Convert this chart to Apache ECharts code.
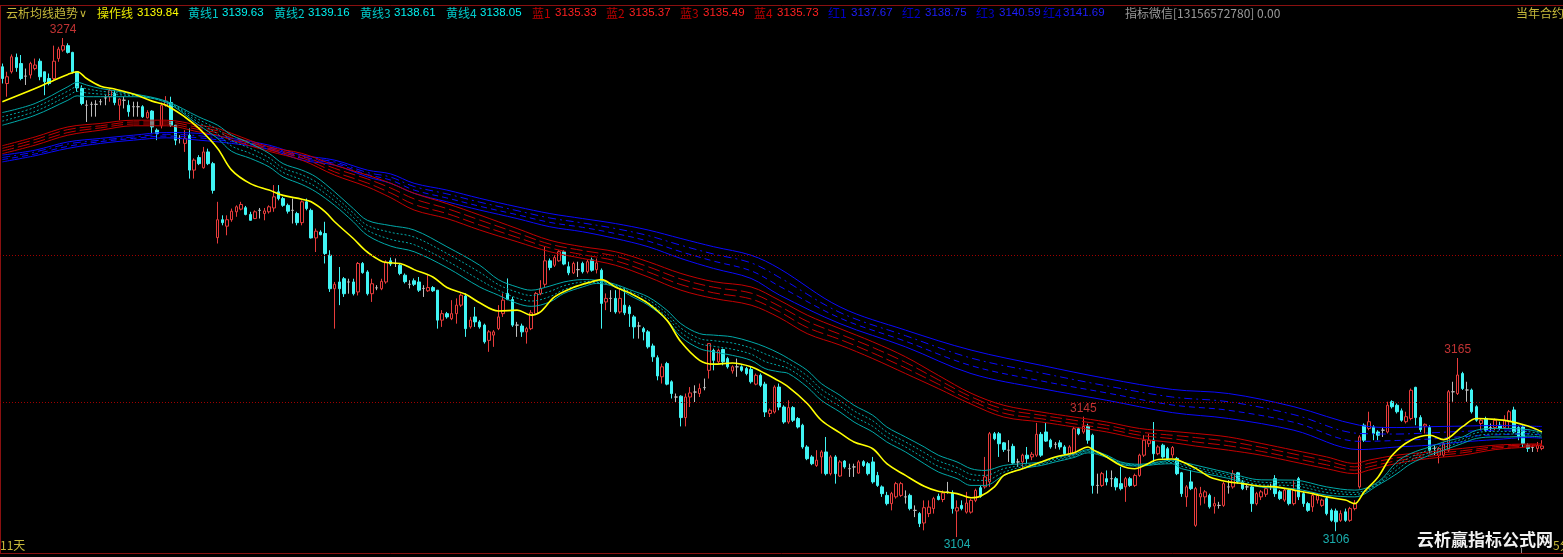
<!DOCTYPE html>
<html><head><meta charset="utf-8">
<script src="https://cdn.jsdelivr.net/npm/echarts@6/dist/echarts.min.js"></script>
<style>html,body{margin:0;padding:0;background:#000;overflow:hidden}#c{width:1563px;height:557px}</style>
</head><body><div id="c"></div>
<script>
// ---- candles: [open, close, low, high] ----
const candles = [
[3264.2,3260.2,3258.5,3265.3],[3258.5,3260.8,3254,3262.5],[3262.5,3267.6,3261.9,3268.4],[3267.4,3263.9,3262.5,3268.7],[3265.3,3260.2,3259.6,3268.2],
[3261,3261,3258,3263.6],[3261.4,3265.3,3260.2,3265.9],[3263.6,3264.8,3263,3267],[3266.1,3260.8,3259.6,3267],[3262.5,3259.1,3254.5,3262.5],
[3260.2,3258.5,3257.9,3261.9],[3260.2,3266.1,3259.6,3271.4],[3267,3270.2,3265.9,3271],[3269.9,3271.4,3269.3,3274],[3271.4,3269.1,3268.7,3272.2],
[3269.1,3262.5,3261.9,3269.3],[3262.5,3257,3255.7,3262.5],[3256.8,3251.7,3251.1,3257.9],[3251.1,3251.1,3245.4,3252.8],[3251.4,3251.4,3247.2,3252.3],
[3251.4,3251.4,3247.2,3252.8],[3252.3,3252.3,3251.1,3253.2],[3253.6,3253.6,3251.1,3254.5],[3254,3256.2,3252.3,3256.8],[3255.1,3252,3251.1,3256.2],
[3251.1,3253.2,3246,3253.4],[3252.8,3252.8,3250,3254],[3251.1,3248.9,3247.2,3252.8],[3250.6,3250.6,3247.2,3252.3],[3250.6,3250.6,3247.2,3252.3],
[3250.6,3247.2,3246.8,3251.1],[3246.8,3248.6,3246.6,3249.4],[3249.1,3243.7,3241.5,3249.4],[3242.6,3241.5,3239.2,3243.2],[3244.1,3251.1,3243.2,3252],
[3251.1,3252.5,3250.6,3254.2],[3252,3244.3,3243.7,3254],[3244.3,3239.2,3237.5,3244.3],[3239.8,3239.8,3238.1,3240.9],[3238.1,3239.8,3235.2,3242.6],
[3240.9,3229,3226.1,3243.2],[3229,3232.4,3226.1,3233],[3233.3,3231.2,3230.7,3234.1],[3229.8,3235.2,3229.5,3236.9],[3235.2,3231.2,3230.7,3236.3],
[3231.2,3222.1,3221,3231.8],[3206,3212.1,3204,3218.2],[3212.1,3211.1,3210.2,3213.6],[3209.9,3212.1,3206.8,3213.6],[3212.1,3215,3211.4,3215.9],
[3214.8,3216.5,3213.1,3217],[3215.7,3217.3,3215.3,3218.2],[3216.2,3213.9,3213.6,3216.8],[3213.9,3211.9,3211.9,3214.8],[3212.5,3214.8,3212.3,3215.3],
[3215.3,3215.3,3212.5,3216.1],[3214.2,3215.1,3211.9,3216.1],[3214.8,3216.5,3214.2,3217],[3216.1,3219.9,3214.8,3223.9],[3221.6,3219.3,3218.7,3223.9],
[3219.3,3217,3216.5,3219.9],[3217,3215,3214.2,3217.6],[3215.3,3215.3,3210.8,3219.3],[3214.2,3211.1,3210.2,3214.8],[3211.1,3218.2,3210.2,3218.7],
[3218.2,3215.9,3215.3,3219.3],[3215.3,3205.9,3205.7,3215.9],[3205.9,3208.2,3201.1,3209.1],[3207.9,3207,3206.8,3208.5],[3207.4,3200.6,3197.2,3211.4],
[3200,3188.6,3187.5,3201.7],[3188.6,3190.1,3175,3190.9],[3190.9,3188.6,3183,3196],[3192,3186.9,3185.8,3192.6],[3190.9,3190.9,3186.9,3192],
[3190.9,3186.9,3186.3,3192],[3187.5,3197.2,3186.3,3197.7],[3197.2,3194.1,3193.7,3197.7],[3194.3,3186.9,3186.3,3194.9],[3186.9,3190.3,3184.1,3192],
[3188.9,3188.9,3188.1,3189.8],[3188.6,3191.1,3188.1,3192],[3190.9,3197.7,3190.3,3198.3],[3198.1,3197,3196.3,3199.2],[3197.2,3197.2,3196,3198.9],
[3196.6,3193.8,3193.2,3197.2],[3193.2,3191,3190.4,3193.8],[3190.1,3190.1,3188.7,3191.5],[3191.3,3190.1,3189.5,3192.1],[3190.9,3188.1,3187.5,3192.6],
[3188.7,3188.7,3185.8,3189.8],[3187.9,3189,3187.5,3193.2],[3189,3187.9,3187.5,3189.5],[3188.1,3177.9,3175,3188.1],[3177.9,3180.1,3175.6,3181.3],
[3180.1,3179,3178.4,3180.7],[3178.4,3180.1,3177.9,3184.7],[3180.1,3183,3176.7,3185.3],[3183,3186.4,3182.4,3187],[3186.1,3175,3172.2,3187],
[3175.6,3177.9,3175,3179],[3179,3177.3,3175.6,3182.4],[3177.3,3175.6,3175,3177.9],[3176.2,3170.5,3169.9,3176.7],[3171,3173.9,3167.1,3174.5],
[3172.8,3173.9,3168.8,3174.5],[3175,3179,3174.5,3183],[3180.1,3184.7,3179,3187],[3187,3184.9,3184.7,3192.1],[3184.9,3176.2,3175.6,3185.8],
[3176.2,3176.2,3172.2,3177.3],[3175.9,3173.9,3172.2,3176.7],[3173.9,3175,3169.9,3175.6],[3175,3180.4,3174.5,3181.3],[3180.1,3187,3179.6,3187.5],
[3187,3188.7,3186.4,3191.5],[3190.1,3198.1,3189,3202.9],[3198.1,3195.8,3194.9,3198.9],[3196.6,3199.2,3196,3200],[3198.1,3201.2,3197.8,3201.7],
[3201.2,3197,3196.6,3201.7],[3196.1,3194,3193.2,3197.8],[3194,3197.2,3193.6,3197.8],[3195.1,3195.1,3192.6,3197.8],[3197.2,3194.4,3193.8,3197.8],
[3194.4,3197.8,3193.8,3198.4],[3198.4,3194.9,3194.4,3199.2],[3195.1,3197.4,3193.8,3198.9],[3194.9,3183.6,3175,3195.5],[3184.1,3185.3,3181.3,3187],
[3185.3,3185.3,3180.7,3188.1],[3185.3,3180.7,3180.1,3188.1],[3180.7,3185.3,3180.1,3188.7],[3183,3180.4,3179.6,3188.7],[3182.4,3180.1,3175.6,3183],
[3179,3175.6,3171.6,3179.6],[3175.9,3175.9,3171.6,3177.3],[3175,3173.9,3171,3175.6],[3173.9,3168.8,3168.2,3174.5],[3169.1,3165.4,3163.7,3169.9],
[3165.1,3158.9,3157.4,3165.9],[3158.6,3162,3156.3,3163.1],[3163.1,3156.1,3155.7,3163.7],[3156.9,3152.9,3151.2,3157.4],[3151.7,3151.7,3150,3152.9],
[3152,3144.7,3141.7,3152.3],[3144.7,3151.7,3141.7,3152.9],[3151.7,3153.1,3148.3,3155.1],[3153.4,3153.4,3150,3155.7],[3152.9,3154.6,3151.7,3156.3],
[3154.9,3154.9,3154,3158],[3160.8,3169.9,3158,3169.9],[3167.6,3164.2,3160.8,3168.2],[3163.7,3167.6,3163.1,3168.2],[3167.9,3163.7,3162.5,3168.2],
[3164.8,3162,3161.4,3165.4],[3160.6,3162,3159.7,3162.5],[3162,3162,3158.6,3164.8],[3162,3160.8,3160.3,3162.5],[3161.4,3159.7,3159.1,3162],
[3161.1,3156.9,3156.3,3162],[3156.1,3159.1,3155.7,3159.7],[3159.1,3155.7,3155.1,3159.7],[3156.1,3146.6,3144.9,3156.9],[3146.1,3147.2,3144.9,3147.8],
[3146.6,3155.1,3146.1,3155.7],[3155.1,3148.3,3147.2,3156.3],[3148.3,3143.2,3142.6,3148.9],[3143.2,3148.1,3142.6,3150.6],[3148.1,3143.8,3143.2,3148.6],
[3144.4,3141.5,3141,3144.9],[3142.1,3134.7,3134.1,3142.6],[3134.7,3130.7,3130.2,3135.3],[3131.3,3129,3128.5,3131.9],[3128.4,3130.2,3127.9,3133.6],
[3131.3,3133,3125.6,3133.6],[3133,3125.6,3125,3138.1],[3125.6,3131.3,3125,3131.9],[3131.3,3125.6,3122.2,3131.9],[3124.8,3129.6,3124.5,3130.2],
[3129.9,3127.9,3127.3,3130.2],[3127.3,3127.3,3124.5,3129],[3127.9,3127.9,3124.5,3129],[3125.8,3129.6,3125.6,3130.2],[3129.7,3128.4,3127.9,3130.2],
[3129,3125.6,3125,3129.6],[3129.6,3122.8,3122.2,3131.3],[3125,3121.6,3121.1,3126.2],[3121.1,3118.8,3117.7,3121.6],[3118.2,3115.4,3114.8,3119.4],
[3115.4,3118.8,3113.1,3119.4],[3117.7,3122.2,3117.1,3122.8],[3118.2,3122.2,3117.7,3122.8],[3117.7,3117.7,3115.4,3119.9],[3118.2,3113.7,3113.1,3118.8],
[3113.1,3113.1,3110.8,3114.8],[3112,3108.6,3107.4,3112.5],[3108.8,3114,3106.3,3116.5],[3112,3114.2,3110.8,3116.5],[3113.7,3117.1,3112,3117.7],
[3117.9,3116.8,3116.5,3118.8],[3116.8,3119,3115.9,3119.9],[3119.4,3119.4,3118.8,3122.8],[3119,3113.7,3112,3119.9],[3112.9,3114,3104,3116.5],
[3114.8,3113.7,3113.1,3116.5],[3112.5,3115.6,3112,3119.4],[3112.5,3116.5,3112,3117.1],[3116.5,3119.9,3115.9,3120.5],[3120.8,3117.9,3117.4,3121.6],
[3121.1,3124.5,3120.5,3131.3],[3122.8,3139.2,3121.1,3139.8],[3139.2,3137.5,3137,3139.8],[3139.2,3135.8,3131.3,3139.8],[3136.1,3133.8,3133,3136.4],
[3133.6,3133.6,3129.6,3137],[3134.9,3129.2,3129,3135.8],[3129.6,3129.6,3127.9,3130.7],[3129.6,3131.9,3127.3,3132.4],[3131.9,3130.7,3129,3134.7],
[3131.3,3132.2,3130.2,3133],[3131.9,3139,3131.3,3142.9],[3139,3131.9,3131.3,3139.8],[3139.8,3136.7,3136.4,3142.9],[3137,3134.7,3134.1,3137.5],
[3135.6,3135.6,3134.1,3136.4],[3136.1,3134.7,3133.8,3137],[3134.7,3132.4,3131.9,3135.3],[3131.9,3134.7,3131.3,3135.3],[3132.4,3140.9,3131.9,3141.5],
[3140.9,3139.2,3138.7,3141.5],[3139.8,3141.7,3139.2,3145],[3141.7,3137,3135.8,3142.6],[3138.7,3121.6,3118.8,3139.2],[3121.6,3121.6,3118.8,3125.6],
[3121.6,3125.6,3121.1,3126.2],[3123.9,3122.8,3121.6,3126.7],[3123.9,3123.9,3121.1,3126.7],[3123.9,3121.1,3119.9,3124.5],[3122.2,3120.5,3119.9,3127.9],
[3121.1,3123.9,3116,3124.5],[3123.9,3121.6,3121.1,3124.5],[3121.6,3125,3121.1,3125.6],[3125,3131.9,3124.5,3132.4],[3131.9,3137,3131.3,3138.7],
[3135.8,3137,3134.7,3139.2],[3137,3132.4,3129.6,3143.2],[3132.4,3134.7,3131.9,3135.3],[3135.3,3131.3,3130.7,3135.8],[3134.1,3130.7,3130.2,3134.7],
[3132,3134.5,3131,3135],[3130.8,3125.6,3125.1,3131.3],[3125.9,3118.8,3117.7,3126.2],[3117.7,3121.1,3114.3,3121.7],[3122.8,3120.5,3120,3126.8],
[3108,3120.5,3107.5,3121.1],[3117.7,3118.8,3114.8,3121.1],[3117.7,3119.4,3115.4,3120],[3118.2,3114.3,3113.7,3118.8],[3114.6,3115.4,3112,3117.7],
[3114.8,3114.8,3113.7,3116],[3114.8,3122.2,3114.3,3122.8],[3121.1,3121.1,3118.8,3123.4],[3121.1,3125.6,3120.5,3126.8],[3125.9,3122.8,3122.2,3126.2],
[3122.8,3120.5,3120,3123.4],[3121.1,3121.1,3120,3122.2],[3121.1,3115.4,3112.6,3121.7],[3115.4,3118.8,3114.8,3119.4],[3117.7,3119.4,3116.6,3120],
[3118.6,3120.5,3117.7,3121.1],[3121.1,3121.1,3120,3122.2],[3123.9,3118.8,3117.7,3125.1],[3119.4,3117.1,3116.6,3120],[3116.6,3120,3116,3120.5],
[3120,3115.4,3114.8,3120.5],[3115.4,3120,3114.8,3123.4],[3123.9,3117.7,3116.6,3124.5],[3118.8,3115.4,3114.3,3119.4],[3115.4,3113.1,3112.6,3116],
[3114.3,3118.2,3112.6,3118.8],[3116.6,3118.2,3115.4,3118.8],[3114.8,3116.6,3114.3,3117.1],[3117.1,3112,3111.4,3117.7],[3113.1,3109.7,3109.2,3113.7],
[3112.9,3109.2,3106,3113.7],[3109.7,3112,3109.2,3113.1],[3112.6,3109.7,3109.2,3113.7],[3109.7,3113.7,3109.2,3114.3],[3113.7,3115.4,3113.1,3116.6],
[3121.1,3138.1,3120.5,3138.7],[3142.1,3137,3136.4,3142.7],[3141,3143.3,3140.4,3146.7],[3141.5,3139.3,3137,3142.1],[3139.8,3138.7,3137,3140.4],
[3140.4,3140.4,3138.1,3141.5],[3139.8,3148.9,3139.3,3150.1],[3150.1,3148.4,3147.8,3150.6],[3148.9,3146.7,3146.1,3149.5],[3147,3143.8,3143.3,3147.8],
[3143.3,3145,3142.7,3146.7],[3144.4,3154,3143.8,3154.6],[3155,3144.7,3142.1,3155.2],[3144.7,3140.6,3139.8,3145.5],[3141.8,3142.4,3139.3,3142.7],
[3141.3,3133.6,3132.5,3142.1],[3134.2,3134.2,3131.9,3135.3],[3131.9,3134.2,3129.1,3134.7],[3131.9,3135.9,3131.3,3136.4],[3133.6,3153.5,3133,3154.1],
[3153.5,3153.5,3150.1,3156.9],[3152.9,3159.2,3152.4,3165],[3159.7,3154.6,3154.1,3160.3],[3154.1,3154.1,3150.1,3156.9],[3154.1,3146.7,3146.1,3154.6],
[3148.4,3143.8,3143.3,3148.9],[3142.7,3143.8,3140.4,3144.4],[3144.4,3140.4,3139.8,3145],[3141.3,3141.3,3139.8,3142.7],[3141.3,3143.8,3140.4,3144.4],
[3142.1,3141,3140.4,3143.3],[3141.3,3143.8,3141,3145.5],[3143.3,3146.7,3141,3147.3],[3147.3,3139.8,3139.3,3148.4],[3141.3,3138.1,3137,3141.8],
[3141.5,3135.9,3134.7,3142.1],[3135.3,3134.2,3133,3135.9],[3134.5,3134.5,3133,3135.3],[3134.2,3135.3,3133,3136.4],[3134.2,3135,3133.6,3137]
];

// ---- 操作线 (yellow) sampled [candle index, value] ----
const opLine = [[0,3252.3],[7,3256.8],[10,3258.9],[14,3261.6],[16,3262.5],[18,3260.2],[21,3257.6],[24,3256.6],[28,3254.9],[32,3252.5],[35,3251.1],[39,3247.1],[42,3243.2],[46,3236.4],[49,3229],[53,3224.4],[57,3222.2],[60,3220.4],[64,3219.1],[66,3218.2],[69,3214.8],[71,3211.4],[75,3205.7],[78,3201.1],[82,3197.5],[85,3197.2],[88,3195.1],[92,3192.6],[95,3189],[99,3186.7],[102,3183.8],[106,3181],[110,3181.3],[113,3179.6],[115,3180.7],[118,3185.8],[122,3189],[126,3191],[128,3191.7],[131,3189.2],[134,3187.2],[138,3183.6],[142,3177.9],[145,3170.5],[149,3164.2],[152,3162.9],[156,3163.3],[160,3162],[163,3159.7],[165,3158],[168,3155.1],[172,3149.5],[175,3143.8],[179,3139.5],[182,3136.4],[186,3134.1],[189,3129],[193,3125],[197,3121.3],[200,3119.6],[204,3118.8],[207,3117.4],[209,3117.9],[212,3121.1],[214,3125],[218,3127.3],[222,3129.6],[225,3131.3],[229,3132.7],[232,3134.7],[233,3133.8],[236,3131.3],[239,3128.4],[242,3127.3],[244,3128.4],[247,3130.4],[250,3130.6],[251,3130.4],[255,3127.4],[258,3124.5],[262,3122.8],[265,3122.2],[269,3121.3],[272,3121.1],[276,3120],[280,3118.8],[283,3117.7],[287,3116.6],[289,3115.4],[291,3119.4],[294,3124.5],[297,3131.9],[301,3137],[305,3138.7],[308,3137.2],[312,3141.6],[315,3144.4],[319,3144.1],[322,3143.5],[326,3141.8],[329,3139.84]];

// ---- 黄线1-4 (cyan band) ----
const cyanIdx = [0,7,14,16,18,21,28,35,42,46,49,53,57,60,64,67,71,75,78,83,88,95,102,106,110,113,117,120,124,127,131,134,138,142,145,149,152,156,160,163,166,168,172,175,179,182,186,189,193,197,200,204,207,210,214,218,222,225,229,232,236,239,243,247,250,252,262,269,276,283,289,294,298,301,305,308,312,315,319,322,326,329];
const huang1 = [3248.6,3251.7,3257.4,3258.9,3258,3256.8,3255,3252.5,3247.1,3244.3,3240.9,3238.1,3234.7,3231.2,3229,3226.7,3221.6,3215.9,3211.9,3210.1,3208.6,3202.9,3196.6,3191.7,3189.2,3188.1,3189.5,3190.9,3191.7,3191.5,3190.1,3188.3,3185.8,3181.3,3176.7,3173.3,3172.8,3172.2,3170.5,3168.8,3166.6,3164.8,3160.8,3156.3,3152.3,3148.9,3145.5,3141.5,3138.1,3134.7,3131.9,3129.6,3127.3,3126.7,3128.4,3129,3129.6,3131.1,3132.2,3133.8,3131.9,3129.6,3128.8,3129.6,3130.2,3129.6,3125.9,3123.5,3123.4,3121.1,3120,3122.8,3129.6,3132.5,3134.7,3136.4,3138.1,3140.4,3141,3141,3140.6,3139.63];
const huang2 = [3247.2,3250.4,3255.9,3257.4,3256.7,3255.9,3254.7,3252.3,3246.2,3242.8,3239.1,3236.4,3233.2,3229.7,3227.4,3225,3220.1,3214.4,3210.2,3207.8,3206.2,3200.6,3194.2,3190,3187.4,3186.3,3187.7,3189.6,3190.9,3191.1,3189.8,3187.7,3184.9,3180.2,3175.2,3171.6,3170.9,3170.1,3168.4,3166.4,3164.5,3163.1,3158.9,3154.4,3150.4,3147,3143.6,3139.8,3136.4,3132.8,3130,3127.7,3125.4,3125,3127.3,3128.4,3129.2,3130.6,3131.8,3133.4,3131.6,3129.3,3128.6,3129.3,3129.8,3128.8,3125.3,3122.7,3122.4,3120.2,3119.2,3122.4,3128.3,3131.3,3133.8,3135.5,3137.4,3139.5,3140,3140,3139.9,3139.16];
const huang3 = [3245.7,3249,3254.3,3255.8,3255.3,3254.9,3254.3,3252.2,3245.2,3241.3,3237.2,3234.7,3231.6,3228.2,3225.7,3223.3,3218.5,3212.9,3208.5,3205.4,3203.6,3198.1,3191.6,3188.1,3185.4,3184.4,3185.9,3188.3,3190,3190.8,3189.5,3187,3183.9,3179,3173.7,3169.9,3169,3168,3166.3,3163.8,3162.4,3161.4,3157,3152.5,3148.5,3145.1,3141.7,3138.1,3134.7,3130.9,3128.1,3125.8,3123.5,3123.3,3126.1,3127.9,3128.8,3130.1,3131.5,3133.1,3131.4,3129.1,3128.4,3129.1,3129.4,3128.1,3124.6,3121.8,3121.5,3119.2,3118.5,3122.1,3126.9,3130.2,3132.8,3134.5,3136.6,3138.5,3139.1,3139.1,3139.1,3138.61];
const huang4 = [3244.3,3247.7,3252.8,3254.3,3254,3254,3254,3252,3244.3,3239.8,3235.4,3233,3230.1,3226.7,3224.1,3221.6,3217,3211.4,3206.8,3203.1,3201.2,3195.8,3189.2,3186.4,3183.6,3182.6,3184.1,3187,3189.2,3190.4,3189.2,3186.4,3183,3177.9,3172.2,3168.2,3167.1,3165.9,3164.2,3161.4,3160.3,3159.7,3155.1,3150.6,3146.6,3143.2,3139.8,3136.4,3133,3129,3126.2,3123.9,3121.6,3121.6,3125,3127.3,3128.4,3129.6,3131.1,3132.7,3131.1,3128.8,3128.2,3128.8,3129,3127.3,3124,3121,3120.5,3118.3,3117.7,3121.7,3125.6,3129,3131.9,3133.6,3135.9,3137.6,3138.1,3138.1,3138.4,3138.05];

// ---- 蓝1-4 (red band) ----
const lanIdx = [0,7,14,21,28,35,42,46,49,57,64,71,78,83,88,95,102,110,117,124,131,138,145,152,160,166,172,179,186,193,200,207,214,222,229,236,243,250,255,262,269,276,283,289,292,298,305,312,319,326,329];
const lan4 = [3237.3,3240.3,3243.7,3244.9,3246,3246,3244.3,3243.2,3241.5,3236.9,3234.7,3230.7,3227.3,3224.5,3221.1,3217.6,3213.7,3209.1,3205.1,3202.9,3201.2,3197.8,3193.8,3191,3189.2,3184.7,3179.6,3175,3170.5,3165.4,3159.1,3153,3148.9,3146.6,3144.9,3143.2,3141,3140,3139.3,3138.1,3135.9,3133.6,3131.3,3129.1,3130.2,3131.9,3133,3134.2,3135.3,3135.7,3135.73];
const lan3 = [3236.4,3239.4,3242.8,3244.1,3245.4,3245.4,3243.5,3242.4,3240.7,3236.4,3233.9,3229.6,3226,3222.9,3219.2,3215.9,3212,3207.6,3203.8,3201.6,3199.7,3196.1,3191.9,3189.1,3187.1,3182.7,3177.5,3173.1,3168.6,3163.5,3157.6,3151.8,3147.6,3145.5,3143.8,3142.1,3139.8,3138.7,3137.9,3136.6,3134.6,3132.3,3130,3127.9,3129.1,3131,3132.3,3133.4,3134.8,3135.4,3135.49];
const lan2 = [3235.5,3238.4,3241.8,3243.4,3244.7,3244.7,3242.8,3241.7,3240,3235.9,3233.2,3228.4,3224.6,3221.2,3217.3,3214.2,3210.3,3206.1,3202.5,3200.2,3198.1,3194.3,3190,3187.2,3185.1,3180.8,3175.4,3171.3,3166.7,3161.6,3156.1,3150.5,3146.2,3144.3,3142.6,3140.9,3138.7,3137.5,3136.4,3135.1,3133.2,3130.9,3128.6,3126.8,3127.9,3130,3131.5,3132.7,3134.3,3135,3135.37];
const lan1 = [3234.6,3237.5,3240.9,3242.6,3244.1,3244.1,3242,3240.9,3239.2,3235.4,3232.4,3227.3,3223.3,3219.6,3215.4,3212.5,3208.6,3204.6,3201.2,3198.9,3196.6,3192.6,3188.1,3185.3,3183,3178.8,3173.3,3169.4,3164.8,3159.7,3154.6,3149.3,3144.9,3143.2,3141.5,3139.8,3137.5,3136.2,3135,3133.6,3131.9,3129.6,3127.3,3125.6,3126.8,3129.1,3130.8,3131.9,3133.8,3134.7,3135.33];

// ---- 红1-4 (blue band) ----
const hongIdx = [0,7,14,21,28,35,42,49,57,64,71,78,83,88,95,102,110,117,124,131,138,145,152,160,166,179,193,207,222,236,250,262,276,290,298,305,312,319,326,329];
const hong4 = [3234.1,3235.8,3238.6,3239.8,3240.9,3241.8,3241.5,3239.8,3237.5,3234.1,3232.4,3229,3227.7,3224.5,3222.2,3219.4,3216.5,3214.2,3212.5,3210.8,3208.6,3205.7,3202.9,3200,3195.5,3182.4,3174.5,3167.7,3162.5,3158,3154.3,3152.9,3148.4,3142.1,3141.3,3141.6,3141.8,3142,3141.8,3141.69];
const hong3 = [3233.3,3235.2,3237.9,3239.2,3240.3,3241.2,3240.7,3239.2,3237,3233.5,3231.8,3228.2,3226.6,3223.4,3220.9,3218.1,3215.2,3212.7,3211,3209.1,3206.7,3203.4,3200.4,3197.4,3192.5,3180.5,3172.6,3165,3159.9,3155.5,3151.7,3150.1,3145.7,3139.3,3139.1,3139.5,3140,3140.4,3140.5,3140.59];
const hong2 = [3232.6,3234.5,3237.1,3238.7,3239.8,3240.6,3240,3238.7,3236.6,3233,3231.3,3227.5,3225.6,3222.2,3219.5,3216.7,3213.8,3211.2,3209.5,3207.4,3204.8,3201.2,3198,3194.7,3189.5,3178.6,3170.7,3162.4,3157.2,3153.1,3149,3147.2,3143.1,3136.6,3136.9,3137.4,3138.2,3138.8,3139.2,3138.75];
const hong1 = [3231.8,3233.9,3236.4,3238.1,3239.2,3240,3239.2,3238.1,3236.1,3232.4,3230.7,3226.7,3224.5,3221.1,3218.2,3215.4,3212.5,3209.7,3208,3205.7,3202.9,3198.9,3195.5,3192.1,3186.5,3176.7,3168.8,3159.7,3154.6,3150.6,3146.4,3144.4,3140.4,3133.8,3134.7,3135.3,3136.4,3137.2,3137.9,3137.67];

// ---- marked extremes [candle index, price, side] ----
const extremes = [[13,3274,'high'],[231,3145,'high'],[311,3165,'high'],[204,3104,'low'],[285,3106,'low']];
// ---- dotted price levels ----
const levels = [3150, 3200];
// ---- header legend ----
const headerLabels = ['操作线','黄线1','黄线2','黄线3','黄线4','蓝1','蓝2','蓝3','蓝4','红1','红2','红3','红4'];
const headerValues = ['3139.84','3139.63','3139.16','3138.61','3138.05','3135.33','3135.37','3135.49','3135.73','3137.67','3138.75','3140.59','3141.69'];

const PAD = 4; // empty slots to the right edge
const N = candles.length + PAD;
const cats = Array.from({length: N}, (_, i) => String(i + 1));
const pairs = (idx, vals) => idx.map((x, k) => [x, vals[k]]);

const CY = '#00a9a9', RD = '#c40000', BL = '#0a0aff';
function ln(name, data, color, type, width, z) {
  return {name, type: 'line', xAxisIndex: 1, yAxisIndex: 0, data, symbol: 'none', smooth: 0.35,
    lineStyle: {color, width: width || 1, type: type || 'solid'}, silent: true, z: z || 3, animation: false};
}

const series = [
  {type: 'candlestick', name: 'K', data: candles, barWidth: 3, z: 2,
   itemStyle: {color: '#000000', color0: '#40f4f4', borderColor: '#e83c3c', borderColor0: '#40f4f4', borderColorDoji: '#bdbdbd', borderWidth: 1},
   markLine: {silent: true, symbol: 'none', label: {show: false},
     lineStyle: {color: '#a00000', type: [1, 2], width: 1}, data: levels.map(v => ({yAxis: v}))},
   animation: false},
  ln('红4', pairs(hongIdx, hong4), BL, 'solid'),
  ln('红3', pairs(hongIdx, hong3), BL, [8, 4, 2, 4]),
  ln('红2', pairs(hongIdx, hong2), BL, [6, 4]),
  ln('红1', pairs(hongIdx, hong1), BL, 'solid'),
  ln('蓝4', pairs(lanIdx, lan4), RD, 'solid'),
  ln('蓝3', pairs(lanIdx, lan3), RD, [12, 4]),
  ln('蓝2', pairs(lanIdx, lan2), RD, [12, 4]),
  ln('蓝1', pairs(lanIdx, lan1), RD, 'solid'),
  ln('黄线1', pairs(cyanIdx, huang1), CY, 'solid'),
  ln('黄线2', pairs(cyanIdx, huang2), CY, [2, 2]),
  ln('黄线3', pairs(cyanIdx, huang3), CY, [2, 2]),
  ln('黄线4', pairs(cyanIdx, huang4), CY, 'solid'),
  ln('操作线', opLine, '#ffff00', 'solid', 1.6, 4),
  {type: 'scatter', xAxisIndex: 1, symbolSize: 0, z: 5, silent: true, animation: false,
   data: extremes.map(e => ({value: [e[0], e[1]],
     label: {show: true, position: e[2] === 'high' ? 'top' : 'bottom', distance: 2,
       color: e[2] === 'high' ? '#f04040' : '#20d8d8', fontSize: 12, fontFamily: 'Liberation Sans',
       formatter: p => String(Math.round(p.value[1]))}}))}
];

// header graphics
const g = [];
const T = (x, y, text, fill, font) => g.push({type: 'text', x, y, silent: true,
  style: {text, fill, font, verticalAlign: 'middle', textVerticalAlign: 'middle', align: 'left'}});
const CJK = '12px "Noto Sans CJK SC"', NUM = '11.5px "Liberation Sans"';
T(6, 13, '云析均线趋势', '#c6b83a', CJK);
T(79, 14, '∨', '#c6b83a', '11px "DejaVu Sans"');
const labX = [97,188,274,360,446,532,606,680,754,828,902,976,1043];
const numX = [137,222,308,394,480,555,629,703,777,851,925,999,1063];
const labCol = ['#e8e800','#00c8c8','#00c8c8','#00c8c8','#00c8c8','#c00000','#c00000','#c00000','#c00000','#0000c8','#0000c8','#0000c8','#0000c8'];
const numCol = ['#ffff00','#00f0f0','#00f0f0','#00f0f0','#00f0f0','#ff2020','#ff2020','#ff2020','#ff2020','#1e1eff','#1e1eff','#1e1eff','#1e1eff'];
headerLabels.forEach((t, k) => { T(labX[k], 13, t, labCol[k], CJK); T(numX[k], 13, headerValues[k], numCol[k], NUM); });
T(1125, 13, '指标微信[13156572780] 0.00', '#9a9a9a', CJK);
T(1516, 13, '当年合约', '#c6b83a', CJK);
T(0, 545, '11天', '#c6b83a', CJK);
T(1553, 545, '5分', '#c6b83a', CJK);
g.push({type: 'text', x: 1417, y: 540, silent: true, z: 10,
  style: {text: '云析赢指标公式网', fill: '#f2f2f2', font: 'bold 17px "Noto Sans CJK SC"', verticalAlign: 'middle', textVerticalAlign: 'middle'}});
// frame lines
g.push({type: 'line', silent: true, shape: {x1: 0, y1: 5.5, x2: 1563, y2: 5.5}, style: {stroke: '#8a1010', lineWidth: 1}});
g.push({type: 'line', silent: true, shape: {x1: 0.5, y1: 5, x2: 0.5, y2: 553}, style: {stroke: '#8a1010', lineWidth: 1}});
g.push({type: 'line', silent: true, shape: {x1: 0, y1: 553.5, x2: 1563, y2: 553.5}, style: {stroke: '#8a1010', lineWidth: 1}});
g.push({type: 'line', silent: true, shape: {x1: 1521.5, y1: 548, x2: 1521.5, y2: 553}, style: {stroke: '#909090', lineWidth: 1}});

const chart = echarts.init(document.getElementById('c'), null, {renderer: 'canvas'});
chart.setOption({
  backgroundColor: '#000000',
  animation: false,
  grid: {left: 0, right: 0, top: 6, bottom: 7},
  xAxis: [
    {type: 'category', data: cats, boundaryGap: true, show: false},
    {type: 'value', min: -0.5, max: N - 0.5, show: false}
  ],
  yAxis: {type: 'value', min: 3099.6, max: 3284.9, show: false, splitLine: {show: false}, scale: true},
  series,
  graphic: g
});
</script>
</body></html>
